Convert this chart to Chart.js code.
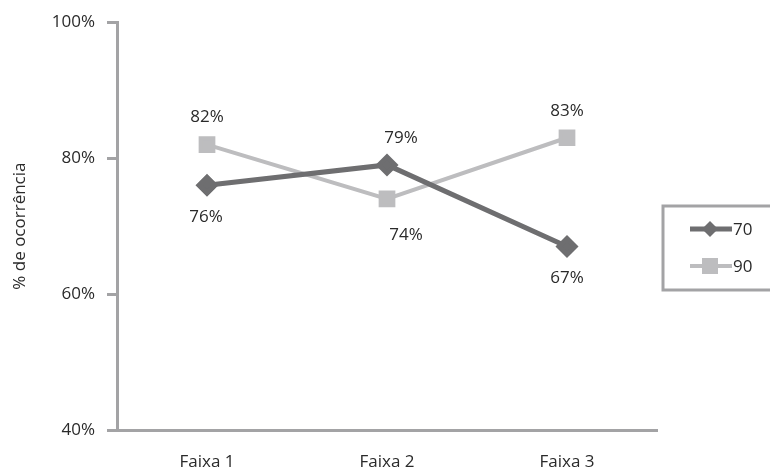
<!DOCTYPE html>
<html>
<head>
<meta charset="utf-8">
<script src="https://cdn.jsdelivr.net/npm/chart.js@4/dist/chart.umd.min.js"></script>
<style>
    body { margin: 0; background: #fff; }
    #wrap { width: 770px; height: 470px; }
</style>
</head>
<body>
<div id="wrap"><canvas id="OcorrenciaChart" width="770" height="470"></canvas></div>
<script>
const faixas = ['Faixa 1', 'Faixa 2', 'Faixa 3'];
const serie70 = [76, 79, 67];
const serie90 = [82, 74, 83];
const yTicks = [40, 60, 80, 100];

const FONT = "'Open Sans', 'DejaVu Sans', sans-serif";
const AXIS_GREY = '#a3a3a5';
const TEXT = '#2a2a2a';

// value labels: which side of the point and a small sideways nudge
const labelSide = {
    0: [{ side: 'below', dx: -1 }, { side: 'above', dx: 14 }, { side: 'below', dx: 0 }],
    1: [{ side: 'above', dx: 0 }, { side: 'below', dx: 19 }, { side: 'above', dx: 0 }]
};

const valueLabels = {
    id: 'valueLabels',
    afterDatasetsDraw(chart) {
        const ctx = chart.ctx;
        ctx.save();
        ctx.font = '17px ' + FONT;
        ctx.fillStyle = TEXT;
        ctx.textAlign = 'center';
        ctx.textBaseline = 'middle';
        chart.data.datasets.forEach((ds, i) => {
            chart.getDatasetMeta(i).data.forEach((pt, j) => {
                const place = labelSide[i][j];
                let y = place.side === 'above' ? pt.y - 27 : pt.y + 32;
                if (i === 1 && j === 1) y = pt.y + 36;
                ctx.fillText(ds.data[j] + '%', pt.x + place.dx, y);
            });
        });
        ctx.restore();
    }
};

// boxed legend on the right edge
const boxLegend = {
    id: 'boxLegend',
    afterDraw(chart) {
        const ctx = chart.ctx;
        ctx.save();
        ctx.strokeStyle = AXIS_GREY;
        ctx.lineWidth = 3;
        ctx.strokeRect(663, 206, 120, 84);
        ctx.font = '17px ' + FONT;
        ctx.textBaseline = 'middle';
        chart.data.datasets.forEach((ds, i) => {
            const y = 229 + i * 37;
            ctx.strokeStyle = ds.borderColor;
            ctx.lineWidth = ds.borderWidth;
            ctx.beginPath();
            ctx.moveTo(690, y);
            ctx.lineTo(732, y);
            ctx.stroke();
            ctx.fillStyle = ds.backgroundColor;
            if (ds.pointStyle === 'rectRot') {
                ctx.beginPath();
                ctx.moveTo(710, y - 8);
                ctx.lineTo(718, y);
                ctx.lineTo(710, y + 8);
                ctx.lineTo(702, y);
                ctx.closePath();
                ctx.fill();
            } else {
                ctx.fillRect(702, y - 8, 16, 16);
            }
            ctx.fillStyle = TEXT;
            ctx.fillText(ds.label, 733, y + 1);
        });
        ctx.restore();
    }
};

const ctx = document.getElementById('OcorrenciaChart');
new Chart(ctx, {
    type: 'line',
    data: {
        labels: faixas,
        datasets: [{
            label: '70',
            data: serie70,
            borderColor: '#6e6e70',
            backgroundColor: '#6e6e70',
            borderWidth: 5,
            pointStyle: 'rectRot',
            pointRadius: 8,
            pointHoverRadius: 8,
            tension: 0
        }, {
            label: '90',
            data: serie90,
            borderColor: '#bdbdbf',
            backgroundColor: '#bdbdbf',
            borderWidth: 4,
            pointStyle: 'rect',
            pointRadius: 9,
            pointHoverRadius: 9,
            tension: 0
        }]
    },
    options: {
        responsive: false,
        animation: false,
        layout: {
            padding: { top: 14, right: 113, left: 10, bottom: 0 }
        },
        plugins: {
            legend: { display: false },
            tooltip: { enabled: false }
        },
        scales: {
            x: {
                offset: true,
                afterFit: (scale) => {
                    scale.height = 40;
                },
                grid: { display: false, drawTicks: false },
                border: { display: true, color: AXIS_GREY, width: 3 },
                ticks: {
                    padding: 22,
                    color: TEXT,
                    font: { family: FONT, size: 17 }
                }
            },
            y: {
                min: 40,
                max: 100,
                afterBuildTicks: (scale) => {
                    scale.ticks = yTicks.map(v => ({ value: v }));
                },
                afterFit: (scale) => {
                    scale.width = 107;
                },
                title: {
                    display: true,
                    text: '% de ocorrência',
                    color: TEXT,
                    font: { family: FONT, size: 17 },
                    padding: { top: 0, bottom: 0 }
                },
                grid: {
                    drawOnChartArea: false,
                    color: AXIS_GREY,
                    lineWidth: 3,
                    tickLength: 10
                },
                border: { display: true, color: AXIS_GREY, width: 3 },
                ticks: {
                    padding: 12,
                    color: TEXT,
                    font: { family: FONT, size: 17 },
                    callback: (v) => v + '%'
                }
            }
        }
    },
    plugins: [valueLabels, boxLegend]
});
</script>
</body>
</html>
